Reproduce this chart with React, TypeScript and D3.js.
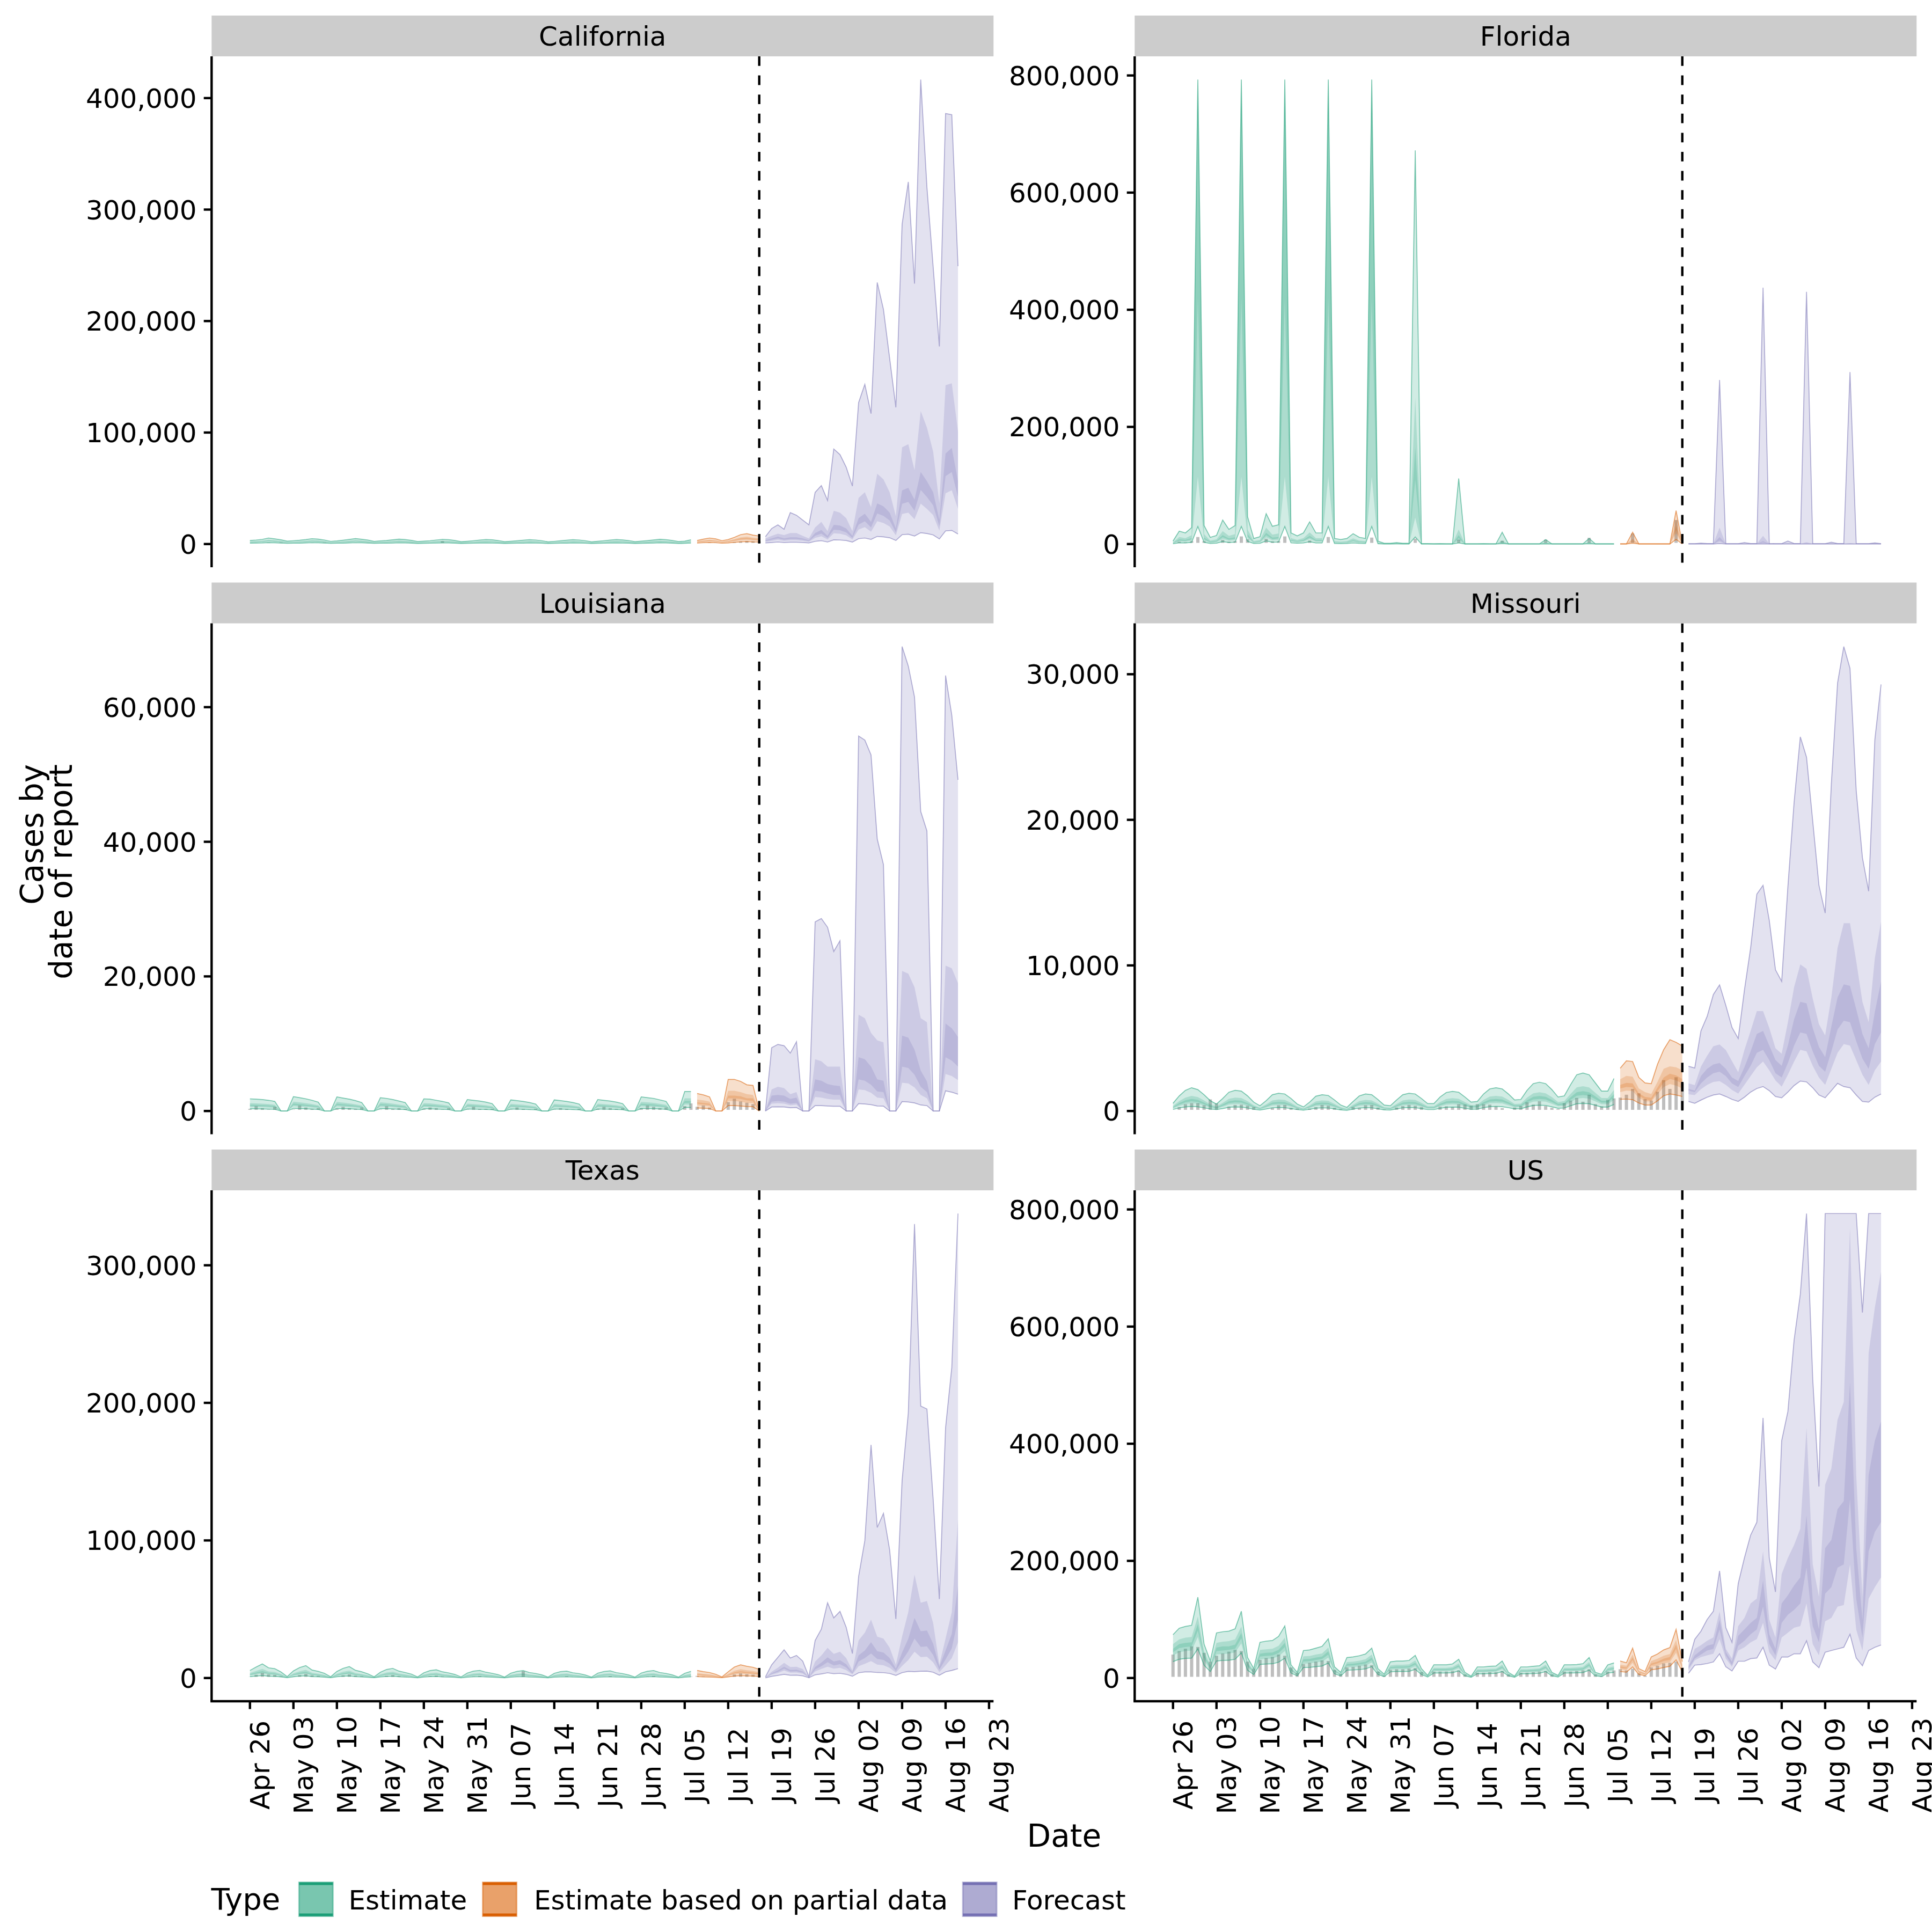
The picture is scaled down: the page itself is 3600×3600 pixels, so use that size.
import React from "react";
import * as d3 from "d3";

// ---------------------------------------------------------------------------
// Categories / structure
// ---------------------------------------------------------------------------
const START_DATE = new Date(2020, 3, 26); // Apr 26 2020 (Sunday)
const N_DAYS = 115; // Apr 26 .. Aug 18
const VLINE_INDEX = 82; // Jul 17, last date with data
const TYPE_SEGMENTS: [number, number][] = [
  [0, 71], // Estimate: Apr 26 - Jul 6
  [72, 82], // Estimate based on partial data: Jul 7 - Jul 17
  [83, 114], // Forecast: Jul 18 - Aug 18
];
const TYPES = ["Estimate", "Estimate based on partial data", "Forecast"];
const TYPE_COLORS = ["#1B9E77", "#D95F02", "#7570B3"];
const REGIONS = ["California", "Florida", "Louisiana", "Missouri", "Texas", "US"];
const X_TICK_START = new Date(2020, 3, 26);
const X_TICK_END = new Date(2020, 7, 23);

// y tick values (thousands) per region
const caTicks = [0, 100, 200, 300, 400];
const flTicks = [0, 200, 400, 600, 800];
const laTicks = [0, 20, 40, 60];
const moTicks = [0, 10, 20, 30];
const txTicks = [0, 100, 200, 300];
const usTicks = [0, 200, 400, 600, 800];

// ---------------------------------------------------------------------------
// Values, in thousands of cases. Rows are weeks Sun..Sat.
// Estimate (72) | partial (11) | forecast (32)
// ---------------------------------------------------------------------------

// ----- California -----
const caHi90 = [
  3.2, 3.6, 4.2, 5.4, 4.6, 3.8, 2.6,
  3.0, 3.4, 4.0, 4.8, 4.4, 3.6, 2.4,
  2.8, 3.4, 4.1, 4.9, 4.3, 3.5, 2.3,
  2.8, 3.2, 3.8, 4.4, 4.0, 3.3, 2.2,
  2.6, 3.0, 3.6, 4.2, 3.9, 3.2, 2.1,
  2.5, 3.0, 3.5, 4.0, 3.8, 3.1, 2.1,
  2.5, 2.9, 3.4, 3.9, 3.6, 3.0, 2.0,
  2.4, 2.9, 3.4, 3.9, 3.6, 3.0, 2.0,
  2.5, 3.0, 3.5, 4.0, 3.7, 3.1, 2.1,
  2.6, 3.1, 3.7, 4.3, 3.9, 3.2, 2.2,
  2.6, 3.8,
  3.2, 4.4, 5.4, 4.6, 3.0, 4.0, 6.0, 8.4, 9.3, 8.0, 7.2,
  6.6,
  13.9, 17.2, 13.3, 28.2, 25.8, 21.5, 17.2,
  46.4, 52.4, 39.1, 85.2, 80.2, 68.9, 52.0,
  126.9, 143.2, 117.0, 234.6, 210.4, 166.4, 122.6,
  286.7, 324.8, 233.6, 416.6, 319.8, 248.6, 177.3,
  386.1, 385.1, 249.2,
];
const caHi50 = [
  2.3, 2.6, 3.0, 3.9, 3.3, 2.7, 1.9,
  2.2, 2.4, 2.9, 3.5, 3.2, 2.6, 1.7,
  2.0, 2.4, 3.0, 3.5, 3.1, 2.5, 1.7,
  2.0, 2.3, 2.7, 3.2, 2.9, 2.4, 1.6,
  1.9, 2.2, 2.6, 3.0, 2.8, 2.3, 1.5,
  1.8, 2.2, 2.5, 2.9, 2.7, 2.2, 1.5,
  1.8, 2.1, 2.4, 2.8, 2.6, 2.2, 1.4,
  1.7, 2.1, 2.4, 2.8, 2.6, 2.2, 1.4,
  1.8, 2.2, 2.5, 2.9, 2.7, 2.2, 1.5,
  1.9, 2.2, 2.7, 3.1, 2.8, 2.3, 1.6,
  1.9, 2.7,
  2.4, 3.2, 3.9, 3.3, 2.2, 3.0, 4.4, 6.0, 6.6, 5.8, 5.2,
  5.0,
  7.3, 9.3, 8.0, 9.9, 9.9, 7.3, 5.0,
  14.9, 19.9, 11.6, 29.8, 28.2, 23.2, 11.6,
  41.4, 46.4, 33.1, 63.0, 58.0, 46.4, 24.9,
  86.8, 89.5, 66.3, 119.3, 104.4, 82.9, 36.5,
  142.5, 144.2, 101.1,
];
const caHi20 = [
  1.9, 2.2, 2.5, 3.2, 2.8, 2.3, 1.6,
  1.8, 2.0, 2.4, 2.9, 2.6, 2.2, 1.4,
  1.7, 2.0, 2.5, 2.9, 2.6, 2.1, 1.4,
  1.7, 1.9, 2.3, 2.6, 2.4, 2.0, 1.3,
  1.6, 1.8, 2.2, 2.5, 2.3, 1.9, 1.3,
  1.5, 1.8, 2.1, 2.4, 2.3, 1.9, 1.3,
  1.5, 1.7, 2.0, 2.3, 2.2, 1.8, 1.2,
  1.4, 1.7, 2.0, 2.3, 2.2, 1.8, 1.2,
  1.5, 1.8, 2.1, 2.4, 2.2, 1.9, 1.3,
  1.6, 1.9, 2.2, 2.6, 2.3, 1.9, 1.3,
  1.6, 2.3,
  2.0, 2.7, 3.3, 2.8, 1.8, 2.5, 3.7, 5.0, 5.5, 4.8, 4.4,
  3.3,
  5.0, 6.6, 5.0, 6.0, 6.0, 5.0, 3.3,
  9.9, 12.6, 7.3, 17.2, 16.6, 13.9, 7.3,
  23.2, 27.2, 19.9, 36.5, 33.8, 28.2, 13.9,
  48.1, 50.4, 39.8, 64.6, 56.3, 46.4, 21.5,
  81.2, 86.2, 56.3,
];
const caLo20 = [
  1.6, 1.8, 2.1, 2.7, 2.3, 1.9, 1.3,
  1.5, 1.7, 2.0, 2.4, 2.2, 1.8, 1.2,
  1.4, 1.7, 2.0, 2.4, 2.1, 1.7, 1.1,
  1.4, 1.6, 1.9, 2.2, 2.0, 1.6, 1.1,
  1.3, 1.5, 1.8, 2.1, 1.9, 1.6, 1.0,
  1.2, 1.5, 1.7, 2.0, 1.9, 1.5, 1.0,
  1.2, 1.4, 1.7, 1.9, 1.8, 1.5, 1.0,
  1.2, 1.4, 1.7, 1.9, 1.8, 1.5, 1.0,
  1.2, 1.5, 1.7, 2.0, 1.8, 1.5, 1.0,
  1.3, 1.5, 1.8, 2.1, 1.9, 1.6, 1.1,
  1.3, 1.9,
  1.7, 2.3, 2.8, 2.4, 1.6, 2.1, 3.1, 4.2, 4.6, 4.0, 3.7,
  2.6,
  3.8, 5.0, 3.8, 4.5, 4.5, 3.8, 2.6,
  7.4, 9.4, 5.5, 12.9, 12.4, 10.4, 5.5,
  17.4, 20.4, 14.9, 27.4, 25.3, 21.2, 10.4,
  36.1, 37.8, 29.9, 48.5, 42.2, 34.8, 16.1,
  60.9, 64.6, 42.2,
];
const caLo50 = [
  1.3, 1.4, 1.7, 2.2, 1.8, 1.5, 1.0,
  1.2, 1.4, 1.6, 1.9, 1.8, 1.4, 1.0,
  1.1, 1.4, 1.6, 2.0, 1.7, 1.4, 0.9,
  1.1, 1.3, 1.5, 1.8, 1.6, 1.3, 0.9,
  1.0, 1.2, 1.4, 1.7, 1.6, 1.3, 0.8,
  1.0, 1.2, 1.4, 1.6, 1.5, 1.2, 0.8,
  1.0, 1.2, 1.4, 1.6, 1.4, 1.2, 0.8,
  1.0, 1.2, 1.4, 1.6, 1.4, 1.2, 0.8,
  1.0, 1.2, 1.4, 1.6, 1.5, 1.2, 0.8,
  1.0, 1.2, 1.5, 1.7, 1.6, 1.3, 0.9,
  1.0, 1.5,
  1.4, 1.9, 2.3, 2.0, 1.3, 1.7, 2.5, 3.4, 3.7, 3.2, 3.0,
  2.0,
  2.9, 3.8, 2.9, 3.4, 3.4, 2.9, 2.0,
  5.5, 7.0, 4.1, 9.6, 9.3, 7.8, 4.1,
  13.0, 15.2, 11.1, 20.4, 18.9, 15.8, 7.8,
  26.9, 28.2, 22.3, 36.2, 31.5, 26.0, 12.0,
  45.5, 48.3, 31.5,
];
const caLo90 = [
  0.8, 0.9, 1.0, 1.3, 1.1, 0.9, 0.6,
  0.7, 0.8, 1.0, 1.2, 1.1, 0.9, 0.6,
  0.7, 0.8, 1.0, 1.2, 1.1, 0.9, 0.6,
  0.7, 0.8, 0.9, 1.1, 1.0, 0.8, 0.5,
  0.6, 0.7, 0.9, 1.0, 1.0, 0.8, 0.5,
  0.6, 0.7, 0.9, 1.0, 0.9, 0.8, 0.5,
  0.6, 0.7, 0.8, 1.0, 0.9, 0.7, 0.5,
  0.6, 0.7, 0.8, 1.0, 0.9, 0.7, 0.5,
  0.6, 0.7, 0.9, 1.0, 0.9, 0.8, 0.5,
  0.6, 0.8, 0.9, 1.1, 1.0, 0.8, 0.5,
  0.6, 0.9,
  0.9, 1.2, 1.4, 1.2, 0.8, 1.0, 1.5, 2.0, 2.2, 1.9, 1.8,
  1.0,
  1.4, 1.8, 1.4, 1.6, 1.6, 1.4, 1.0,
  2.4, 3.0, 1.8, 3.8, 3.6, 3.2, 1.8,
  4.8, 5.4, 4.2, 6.8, 6.4, 5.6, 3.2,
  8.4, 8.8, 7.2, 10.2, 9.4, 8.2, 4.6,
  11.8, 12.2, 9.0,
];
const caReported = [
  1.5, 2.2, 1.8, 2.4, 2.0, 2.6, 1.7,
  1.4, 1.9, 1.6, 2.3, 2.1, 2.5, 1.8,
  1.3, 1.8, 1.7, 2.2, 2.0, 2.3, 1.6,
  1.2, 1.6, 1.9, 2.1, 1.9, 2.2, 1.5,
  1.3, 1.5, 1.7, 3.6, 2.0, 2.1, 1.5,
  1.1, 1.5, 1.8, 1.9, 1.9, 2.0, 1.4,
  1.2, 1.4, 1.7, 2.0, 1.8, 1.9, 1.3,
  1.2, 1.5, 1.6, 1.9, 1.8, 2.0, 1.4,
  1.3, 1.6, 1.8, 2.0, 1.9, 2.1, 1.4,
  1.4, 1.7, 1.9, 2.2, 2.0, 2.2, 1.5,
  1.5, 1.8,
  2.0, 2.3, 2.5, 2.4, 1.6, 2.2, 2.8, 3.4, 3.8, 3.5, 3.2,
];

// ----- Florida -----
const flHi90 = [
  5, 22, 19, 28, 793, 31.6, 11.4,
  14.5, 41, 25, 31.6, 793, 47, 9.5,
  12.6, 51.8, 30.3, 32.8, 793, 19, 13.9,
  19, 37.9, 19, 19, 793, 9.5, 7.6,
  9.5, 17.7, 11.4, 9.5, 793, 5, 1.3,
  1.3, 2.5, 1.3, 1.3, 672, 0.6, 0.6,
  0.4, 0.6, 0.4, 0.4, 112, 0.4, 0.3,
  0.3, 0.5, 0.3, 0.3, 20, 0.3, 0.3,
  0.3, 0.4, 0.3, 0.3, 7.6, 0.3, 0.3,
  0.3, 0.4, 0.3, 0.3, 9.5, 0.3, 0.3,
  0.3, 0.4,
  0.3, 0.3, 20, 0.3, 0.3, 0.3, 0.4, 0.3, 0.3, 57, 0.5,
  0.6,
  0.6, 1.5, 0.8, 0.8, 280, 0.8, 0.6,
  0.6, 2.5, 0.8, 0.8, 437.6, 0.8, 0.6,
  0.6, 5, 0.8, 0.8, 430.6, 0.8, 0.6,
  0.6, 3, 0.8, 0.8, 293.6, 0.8, 0.6,
  0.6, 2, 0.5,
];
const flHi50 = [
  3, 12, 10, 15, 793, 17, 6,
  8, 22, 14, 17, 793, 25, 5,
  7, 28, 16, 18, 793, 10, 7,
  10, 20, 10, 10, 793, 5, 4,
  5, 9.5, 6, 5, 793, 2.7, 0.7,
  0.7, 1.3, 0.7, 0.7, 250, 0.3, 0.3,
  0.2, 0.3, 0.2, 0.2, 25, 0.2, 0.2,
  0.2, 0.3, 0.2, 0.2, 6, 0.2, 0.2,
  0.2, 0.2, 0.2, 0.2, 3, 0.2, 0.2,
  0.2, 0.2, 0.2, 0.2, 3.5, 0.2, 0.2,
  0.2, 0.2,
  0.2, 0.2, 9, 0.2, 0.2, 0.2, 0.2, 0.2, 0.2, 43, 0.3,
  0.3,
  0.3, 0.8, 0.4, 0.4, 28, 0.4, 0.3,
  0.3, 1.2, 0.4, 0.4, 14, 0.4, 0.3,
  0.3, 2.2, 0.4, 0.4, 3.2, 0.4, 0.3,
  0.3, 1.4, 0.4, 0.4, 1.5, 0.4, 0.3,
  0.3, 1, 0.3,
];
const flHi20 = [
  2.2, 8, 7, 10, 793, 11, 4,
  5.5, 15, 9.5, 11.5, 793, 17, 3.5,
  4.8, 19, 11, 12, 793, 7, 5,
  7, 14, 7, 7, 793, 3.5, 2.8,
  3.5, 6.5, 4.2, 3.5, 793, 1.8, 0.5,
  0.5, 0.9, 0.5, 0.5, 165, 0.2, 0.2,
  0.15, 0.2, 0.15, 0.15, 15, 0.15, 0.1,
  0.1, 0.2, 0.1, 0.1, 4, 0.1, 0.1,
  0.1, 0.15, 0.1, 0.1, 2, 0.1, 0.1,
  0.1, 0.15, 0.1, 0.1, 2.5, 0.1, 0.1,
  0.1, 0.15,
  0.1, 0.1, 6, 0.1, 0.1, 0.1, 0.15, 0.1, 0.1, 31, 0.2,
  0.2,
  0.2, 0.5, 0.25, 0.25, 12, 0.25, 0.2,
  0.2, 0.7, 0.25, 0.25, 5, 0.25, 0.2,
  0.2, 1.2, 0.25, 0.25, 1.2, 0.25, 0.2,
  0.2, 0.8, 0.25, 0.25, 0.6, 0.25, 0.2,
  0.2, 0.6, 0.2,
];
const flLo20 = [
  1.7, 6, 5.5, 8, 420, 8.5, 3,
  4.3, 12, 7.5, 9, 420, 13, 2.8,
  3.8, 15, 8.5, 9.5, 420, 5.5, 4,
  5.5, 11, 5.5, 5.5, 420, 2.8, 2.2,
  2.8, 5, 3.3, 2.8, 420, 1.4, 0.4,
  0.4, 0.7, 0.4, 0.4, 110, 0.15, 0.15,
  0.1, 0.15, 0.1, 0.1, 10, 0.1, 0.1,
  0.1, 0.1, 0.1, 0.1, 2.8, 0.1, 0.1,
  0.1, 0.1, 0.1, 0.1, 1.4, 0.1, 0.1,
  0.1, 0.1, 0.1, 0.1, 1.8, 0.1, 0.1,
  0.1, 0.1,
  0.1, 0.1, 4.5, 0.1, 0.1, 0.1, 0.1, 0.1, 0.1, 24, 0.15,
  0.15,
  0.15, 0.35, 0.2, 0.2, 6, 0.2, 0.15,
  0.15, 0.5, 0.2, 0.2, 2.5, 0.2, 0.15,
  0.15, 0.8, 0.2, 0.2, 0.6, 0.2, 0.15,
  0.15, 0.5, 0.2, 0.2, 0.3, 0.2, 0.15,
  0.15, 0.4, 0.15,
];
const flLo50 = [
  1.3, 4.6, 4.2, 6, 115, 6.5, 2.3,
  3.3, 9, 5.7, 7, 115, 10, 2.1,
  2.9, 11.5, 6.5, 7.3, 115, 4.2, 3,
  4.2, 8.4, 4.2, 4.2, 115, 2.1, 1.7,
  2.1, 3.8, 2.5, 2.1, 115, 1.1, 0.3,
  0.3, 0.5, 0.3, 0.3, 45, 0.1, 0.1,
  0.08, 0.1, 0.08, 0.08, 6, 0.08, 0.05,
  0.05, 0.08, 0.05, 0.05, 1.8, 0.05, 0.05,
  0.05, 0.08, 0.05, 0.05, 0.9, 0.05, 0.05,
  0.05, 0.08, 0.05, 0.05, 1.2, 0.05, 0.05,
  0.05, 0.08,
  0.05, 0.05, 3.5, 0.05, 0.05, 0.05, 0.08, 0.05, 0.05, 18, 0.1,
  0.1,
  0.1, 0.25, 0.12, 0.12, 3, 0.12, 0.1,
  0.1, 0.3, 0.12, 0.12, 1.2, 0.12, 0.1,
  0.1, 0.5, 0.12, 0.12, 0.3, 0.12, 0.1,
  0.1, 0.3, 0.12, 0.12, 0.15, 0.12, 0.1,
  0.1, 0.25, 0.1,
];
const flLo90 = [
  0.6, 2.2, 2, 2.8, 30, 3, 1.1,
  1.5, 4.2, 2.6, 3.2, 30, 4.6, 1,
  1.3, 5.3, 3, 3.4, 30, 2, 1.4,
  2, 3.9, 2, 2, 30, 1, 0.8,
  1, 1.8, 1.2, 1, 30, 0.5, 0.15,
  0.15, 0.25, 0.15, 0.15, 12, 0.05, 0.05,
  0.03, 0.05, 0.03, 0.03, 2, 0.03, 0.02,
  0.02, 0.03, 0.02, 0.02, 0.7, 0.02, 0.02,
  0.02, 0.03, 0.02, 0.02, 0.4, 0.02, 0.02,
  0.02, 0.03, 0.02, 0.02, 0.5, 0.02, 0.02,
  0.02, 0.03,
  0.02, 0.02, 1.5, 0.02, 0.02, 0.02, 0.03, 0.02, 0.02, 8, 0.05,
  0.03,
  0.03, 0.1, 0.05, 0.05, 0.8, 0.05, 0.03,
  0.03, 0.1, 0.05, 0.05, 0.3, 0.05, 0.03,
  0.03, 0.15, 0.05, 0.05, 0.08, 0.05, 0.03,
  0.03, 0.1, 0.05, 0.05, 0.04, 0.05, 0.03,
  0.03, 0.08, 0.03,
];
const flReported = [
  1.5, 6, 5, 7, 14, 7, 2.5,
  3.5, 9, 6, 7, 15, 10, 2,
  3, 11, 6.5, 7, 15, 4, 3,
  4, 8, 4, 4, 14, 2, 1.5,
  2, 4, 2.5, 2, 13, 1, 0.3,
  0.3, 2.5, 0.3, 0.3, 11, 0, 0,
  0, 0, 0, 0, 9.5, 0, 0,
  0, 0, 0, 0, 7.6, 0, 0,
  0, 0, 0, 0, 9.5, 0, 0,
  0, 0, 0, 0, 12.6, 0, 0,
  0, 0,
  0, 0, 20, 0, 0, 0, 0, 0, 0, 43, 0,
];

// ----- Louisiana -----
const laHi90 = [
  1.81, 1.76, 1.70, 1.59, 1.43, 0, 0,
  2.14, 1.98, 1.81, 1.59, 1.32, 0, 0,
  2.09, 1.92, 1.76, 1.54, 1.26, 0, 0,
  1.98, 1.87, 1.70, 1.48, 1.26, 0, 0,
  1.81, 1.76, 1.59, 1.43, 1.21, 0, 0,
  1.70, 1.59, 1.48, 1.32, 1.10, 0, 0,
  1.65, 1.54, 1.43, 1.26, 1.04, 0, 0,
  1.65, 1.54, 1.43, 1.26, 1.04, 0, 0,
  1.70, 1.59, 1.48, 1.32, 1.10, 0, 0,
  2.09, 1.98, 1.87, 1.65, 1.43, 0, 0,
  2.9, 2.9,
  2.6, 2.4, 2.1, 0, 0, 4.7, 4.7, 4.4, 3.9, 3.8, 0,
  0,
  9.4, 9.9, 9.7, 8.6, 10.3, 0, 0,
  28.1, 28.6, 27.3, 23.7, 25.3, 0, 0,
  55.7, 55.1, 52.9, 40.4, 36.6, 0, 0,
  69.0, 66.1, 61.5, 44.5, 41.6, 0, 0,
  64.7, 58.8, 49.2,
];
const laHi50 = [
  1.18, 1.14, 1.10, 1.03, 0.93, 0, 0,
  1.39, 1.29, 1.18, 1.03, 0.86, 0, 0,
  1.36, 1.25, 1.14, 1.00, 0.82, 0, 0,
  1.29, 1.22, 1.10, 0.96, 0.82, 0, 0,
  1.18, 1.14, 1.03, 0.93, 0.79, 0, 0,
  1.10, 1.03, 0.96, 0.86, 0.72, 0, 0,
  1.07, 1.00, 0.93, 0.82, 0.68, 0, 0,
  1.07, 1.00, 0.93, 0.82, 0.68, 0, 0,
  1.10, 1.03, 0.96, 0.86, 0.72, 0, 0,
  1.36, 1.29, 1.22, 1.07, 0.93, 0, 0,
  1.9, 1.9,
  1.7, 1.6, 1.4, 0, 0, 3.0, 3.0, 2.8, 2.5, 2.4, 0,
  0,
  3.2, 3.6, 3.4, 2.5, 2.8, 0, 0,
  7.7, 7.4, 6.6, 6.6, 6.6, 0, 0,
  14.3, 13.8, 11.6, 10.5, 10.2, 0, 0,
  20.8, 20.4, 18.4, 13.8, 13.2, 0, 0,
  21.6, 21.2, 19.0,
];
const laHi20 = [
  0.94, 0.92, 0.88, 0.83, 0.74, 0, 0,
  1.11, 1.03, 0.94, 0.83, 0.69, 0, 0,
  1.09, 1.00, 0.92, 0.80, 0.66, 0, 0,
  1.03, 0.97, 0.88, 0.77, 0.66, 0, 0,
  0.94, 0.92, 0.83, 0.74, 0.63, 0, 0,
  0.88, 0.83, 0.77, 0.69, 0.57, 0, 0,
  0.86, 0.80, 0.74, 0.66, 0.54, 0, 0,
  0.86, 0.80, 0.74, 0.66, 0.54, 0, 0,
  0.88, 0.83, 0.77, 0.69, 0.57, 0, 0,
  1.09, 1.03, 0.97, 0.86, 0.74, 0, 0,
  1.5, 1.5,
  1.3, 1.2, 1.1, 0, 0, 2.3, 2.3, 2.2, 1.9, 1.9, 0,
  0,
  2.3, 2.4, 2.3, 1.8, 2.0, 0, 0,
  4.7, 4.5, 4.0, 3.8, 3.7, 0, 0,
  8.0, 7.7, 6.6, 4.7, 4.5, 0, 0,
  11.2, 10.9, 9.1, 6.0, 4.4, 0, 0,
  13.0, 12.3, 11.0,
];
const laLo20 = [
  0.76, 0.74, 0.71, 0.67, 0.60, 0, 0,
  0.90, 0.83, 0.76, 0.67, 0.55, 0, 0,
  0.88, 0.81, 0.74, 0.65, 0.53, 0, 0,
  0.83, 0.79, 0.71, 0.62, 0.53, 0, 0,
  0.76, 0.74, 0.67, 0.60, 0.51, 0, 0,
  0.71, 0.67, 0.62, 0.55, 0.46, 0, 0,
  0.69, 0.65, 0.60, 0.53, 0.44, 0, 0,
  0.69, 0.65, 0.60, 0.53, 0.44, 0, 0,
  0.71, 0.67, 0.62, 0.55, 0.46, 0, 0,
  0.88, 0.83, 0.79, 0.69, 0.60, 0, 0,
  1.2, 1.2,
  1.1, 1.0, 0.9, 0, 0, 1.9, 1.9, 1.8, 1.6, 1.5, 0,
  0,
  1.4, 1.5, 1.4, 1.1, 1.2, 0, 0,
  3.0, 2.9, 2.6, 2.4, 2.4, 0, 0,
  4.7, 4.5, 3.9, 2.9, 2.8, 0, 0,
  6.6, 6.4, 5.4, 3.6, 2.8, 0, 0,
  8.0, 7.5, 6.6,
];
const laLo50 = [
  0.60, 0.58, 0.56, 0.52, 0.47, 0, 0,
  0.71, 0.65, 0.60, 0.52, 0.44, 0, 0,
  0.69, 0.63, 0.58, 0.51, 0.42, 0, 0,
  0.65, 0.62, 0.56, 0.49, 0.42, 0, 0,
  0.60, 0.58, 0.52, 0.47, 0.40, 0, 0,
  0.56, 0.52, 0.49, 0.44, 0.36, 0, 0,
  0.54, 0.51, 0.47, 0.42, 0.34, 0, 0,
  0.54, 0.51, 0.47, 0.42, 0.34, 0, 0,
  0.56, 0.52, 0.49, 0.44, 0.36, 0, 0,
  0.69, 0.65, 0.62, 0.54, 0.47, 0, 0,
  0.95, 0.95,
  0.85, 0.8, 0.7, 0, 0, 1.5, 1.5, 1.4, 1.2, 1.2, 0,
  0,
  1.1, 1.15, 1.1, 0.85, 0.95, 0, 0,
  2.1, 2.0, 1.8, 1.7, 1.7, 0, 0,
  3.2, 3.1, 2.7, 2.0, 1.9, 0, 0,
  4.2, 4.1, 3.5, 2.4, 1.9, 0, 0,
  5.5, 5.2, 4.6,
];
const laLo90 = [
  0.33, 0.32, 0.31, 0.29, 0.26, 0, 0,
  0.39, 0.36, 0.33, 0.29, 0.24, 0, 0,
  0.38, 0.35, 0.32, 0.28, 0.23, 0, 0,
  0.36, 0.34, 0.31, 0.27, 0.23, 0, 0,
  0.33, 0.32, 0.29, 0.26, 0.22, 0, 0,
  0.31, 0.29, 0.27, 0.24, 0.20, 0, 0,
  0.30, 0.28, 0.26, 0.23, 0.19, 0, 0,
  0.30, 0.28, 0.26, 0.23, 0.19, 0, 0,
  0.31, 0.29, 0.27, 0.24, 0.20, 0, 0,
  0.38, 0.36, 0.34, 0.30, 0.26, 0, 0,
  0.52, 0.52,
  0.45, 0.42, 0.37, 0, 0, 0.8, 0.8, 0.75, 0.66, 0.64, 0,
  0,
  0.6, 0.62, 0.6, 0.48, 0.52, 0, 0,
  0.8, 0.8, 0.75, 0.7, 0.7, 0, 0,
  1.1, 1.05, 0.95, 0.75, 0.72, 0, 0,
  1.4, 1.35, 1.2, 0.9, 0.8, 0, 0,
  3.0, 2.8, 2.5,
];
const laReported = [
  0.5, 0.9, 0.6, 0.4, 0.8, 0, 0,
  0.4, 1.0, 0.7, 0.5, 0.6, 0, 0,
  0.5, 0.8, 0.6, 0.5, 0.7, 0, 0,
  0.4, 0.9, 0.5, 0.6, 0.5, 0, 0,
  0.5, 0.7, 0.6, 0.4, 0.6, 0, 0,
  0.4, 0.8, 0.5, 0.5, 0.5, 0, 0,
  0.4, 0.7, 0.5, 0.4, 0.5, 0, 0,
  0.4, 0.6, 0.5, 0.4, 0.5, 0, 0,
  0.5, 0.8, 0.6, 0.5, 0.6, 0, 0,
  0.6, 1.0, 0.8, 0.6, 0.7, 0, 0,
  0.9, 1.3,
  0.8, 1.0, 0.7, 0, 0, 1.5, 2.0, 1.6, 1.4, 1.2, 0,
];

// ----- Missouri -----
const moHi90 = [
  0.53, 1.04, 1.42, 1.60, 1.47, 1.12, 0.71,
  0.48, 0.86, 1.29, 1.42, 1.37, 1.04, 0.61,
  0.36, 0.71, 1.12, 1.22, 1.17, 0.86, 0.48,
  0.28, 0.61, 1.02, 1.12, 1.07, 0.76, 0.41,
  0.25, 0.66, 1.04, 1.17, 1.12, 0.79, 0.41,
  0.36, 0.76, 1.12, 1.22, 1.17, 0.86, 0.51,
  0.51, 0.96, 1.27, 1.35, 1.29, 0.96, 0.61,
  0.66, 1.17, 1.52, 1.60, 1.52, 1.17, 0.76,
  0.79, 1.42, 1.88, 1.98, 1.88, 1.47, 0.96,
  1.04, 1.80, 2.49, 2.61, 2.49, 1.93, 1.37,
  1.37, 2.23,
  2.94, 3.45, 3.40, 2.31, 1.93, 1.88, 3.20, 4.21, 4.90, 4.72, 4.47,
  3.07,
  2.95, 5.5, 6.5, 8.0, 8.66, 7.26, 5.74,
  4.98, 8.3, 11.2, 14.9, 15.5, 13.1, 9.7,
  8.9, 15.4, 21.2, 25.7, 24.3, 19.9, 15.5,
  13.6, 22.5, 29.4, 31.9, 30.4, 22.0, 17.4,
  15.1, 25.5, 29.3,
];
const moHi50 = [
  0.35, 0.68, 0.92, 1.04, 0.96, 0.73, 0.46,
  0.31, 0.56, 0.84, 0.92, 0.89, 0.68, 0.40,
  0.23, 0.46, 0.73, 0.79, 0.76, 0.56, 0.31,
  0.18, 0.40, 0.66, 0.73, 0.70, 0.49, 0.27,
  0.16, 0.43, 0.68, 0.76, 0.73, 0.51, 0.27,
  0.23, 0.49, 0.73, 0.79, 0.76, 0.56, 0.33,
  0.33, 0.62, 0.83, 0.88, 0.84, 0.62, 0.40,
  0.43, 0.76, 0.99, 1.04, 0.99, 0.76, 0.49,
  0.51, 0.92, 1.22, 1.29, 1.22, 0.96, 0.62,
  0.68, 1.17, 1.62, 1.70, 1.62, 1.25, 0.89,
  0.89, 1.45,
  2.18, 2.41, 2.36, 1.55, 1.30, 1.17, 2.0, 2.9, 3.07, 3.0, 2.8,
  1.9,
  1.78, 3.05, 3.8, 4.45, 4.57, 4.19, 3.43,
  2.66, 4.19, 5.5, 6.86, 6.86, 5.71, 4.31,
  3.93, 6.09, 8.5, 10.07, 9.77, 7.72, 5.96,
  5.2, 7.8, 11.2, 12.9, 12.9, 10.3, 7.5,
  6.1, 10.5, 13.0,
];
const moHi20 = [
  0.28, 0.54, 0.74, 0.83, 0.76, 0.58, 0.37,
  0.25, 0.45, 0.67, 0.74, 0.71, 0.54, 0.32,
  0.19, 0.37, 0.58, 0.63, 0.61, 0.45, 0.25,
  0.15, 0.32, 0.53, 0.58, 0.56, 0.40, 0.21,
  0.13, 0.34, 0.54, 0.61, 0.58, 0.41, 0.21,
  0.19, 0.40, 0.58, 0.63, 0.61, 0.45, 0.27,
  0.27, 0.50, 0.66, 0.70, 0.67, 0.50, 0.32,
  0.34, 0.61, 0.79, 0.83, 0.79, 0.61, 0.40,
  0.41, 0.74, 0.98, 1.03, 0.98, 0.76, 0.50,
  0.54, 0.94, 1.29, 1.36, 1.29, 1.00, 0.71,
  0.71, 1.16,
  1.80, 1.93, 1.90, 1.22, 0.97, 0.91, 1.6, 2.3, 2.56, 2.45, 2.2,
  1.52,
  1.4, 2.4, 2.9, 3.2, 3.3, 2.9, 2.3,
  2.06, 3.0, 4.1, 5.3, 5.5, 4.5, 3.5,
  3.1, 4.5, 6.3, 7.5, 7.4, 5.7, 4.4,
  3.7, 5.8, 7.8, 8.7, 8.6, 7.0, 5.3,
  4.3, 6.8, 8.9,
];
const moLo20 = [
  0.22, 0.44, 0.60, 0.67, 0.62, 0.47, 0.30,
  0.20, 0.36, 0.54, 0.60, 0.58, 0.44, 0.26,
  0.15, 0.30, 0.47, 0.51, 0.49, 0.36, 0.20,
  0.12, 0.26, 0.43, 0.47, 0.45, 0.32, 0.17,
  0.11, 0.28, 0.44, 0.49, 0.47, 0.33, 0.17,
  0.15, 0.32, 0.47, 0.51, 0.49, 0.36, 0.21,
  0.21, 0.40, 0.53, 0.57, 0.54, 0.40, 0.26,
  0.28, 0.49, 0.64, 0.67, 0.64, 0.49, 0.32,
  0.33, 0.60, 0.79, 0.83, 0.79, 0.62, 0.40,
  0.44, 0.76, 1.05, 1.10, 1.05, 0.81, 0.58,
  0.58, 0.94,
  1.55, 1.65, 1.62, 1.05, 0.80, 0.71, 1.35, 1.95, 2.2, 2.1, 1.9,
  1.4,
  1.3, 1.9, 2.3, 2.6, 2.7, 2.4, 1.9,
  1.65, 2.4, 3.1, 4.0, 4.2, 3.5, 2.6,
  2.3, 3.3, 4.5, 5.4, 5.3, 4.1, 3.1,
  2.7, 4.1, 5.6, 6.2, 6.1, 4.8, 3.6,
  2.9, 4.6, 5.4,
];
const moLo50 = [
  0.18, 0.35, 0.48, 0.54, 0.50, 0.38, 0.24,
  0.16, 0.29, 0.44, 0.48, 0.47, 0.35, 0.21,
  0.12, 0.24, 0.38, 0.41, 0.40, 0.29, 0.16,
  0.10, 0.21, 0.35, 0.38, 0.36, 0.26, 0.14,
  0.09, 0.22, 0.35, 0.40, 0.38, 0.27, 0.14,
  0.12, 0.26, 0.38, 0.41, 0.40, 0.29, 0.17,
  0.17, 0.33, 0.43, 0.46, 0.44, 0.33, 0.21,
  0.22, 0.40, 0.52, 0.54, 0.52, 0.40, 0.26,
  0.27, 0.48, 0.64, 0.67, 0.64, 0.50, 0.33,
  0.35, 0.61, 0.85, 0.89, 0.85, 0.66, 0.47,
  0.47, 0.76,
  1.30, 1.40, 1.37, 0.90, 0.66, 0.66, 1.15, 1.65, 1.85, 1.75, 1.55,
  1.15,
  1.1, 1.5, 1.8, 2.0, 2.05, 1.8, 1.45,
  1.2, 1.8, 2.4, 3.0, 3.4, 2.8, 2.1,
  1.68, 2.5, 3.4, 4.2, 4.1, 3.1, 2.3,
  1.8, 2.9, 4.0, 4.6, 4.5, 3.5, 2.5,
  1.8, 2.8, 3.4,
];
const moLo90 = [
  0.11, 0.21, 0.28, 0.32, 0.29, 0.22, 0.14,
  0.10, 0.17, 0.26, 0.28, 0.27, 0.21, 0.12,
  0.07, 0.14, 0.22, 0.24, 0.23, 0.17, 0.10,
  0.06, 0.12, 0.20, 0.22, 0.21, 0.15, 0.08,
  0.05, 0.13, 0.21, 0.23, 0.22, 0.16, 0.08,
  0.07, 0.15, 0.22, 0.24, 0.23, 0.17, 0.10,
  0.10, 0.19, 0.25, 0.27, 0.26, 0.19, 0.12,
  0.13, 0.23, 0.30, 0.32, 0.30, 0.23, 0.15,
  0.16, 0.28, 0.38, 0.40, 0.38, 0.29, 0.19,
  0.21, 0.36, 0.50, 0.52, 0.50, 0.39, 0.27,
  0.27, 0.45,
  0.80, 0.82, 0.78, 0.55, 0.41, 0.41, 0.7, 1.05, 1.17, 1.1, 1.0,
  0.66,
  0.53, 0.75, 0.95, 1.1, 1.17, 1.0, 0.8,
  0.66, 0.95, 1.3, 1.55, 1.68, 1.4, 1.0,
  0.91, 1.3, 1.75, 2.06, 2.0, 1.6, 1.1,
  0.91, 1.4, 1.9, 1.68, 1.6, 1.1, 0.66,
  0.61, 0.95, 1.17,
];
const moReported = [
  0.15, 0.35, 0.55, 0.62, 0.62, 0.48, 0.88,
  0.6, 0.12, 0.38, 0.5, 0.52, 0.45, 0.35,
  0.15, 0.1, 0.3, 0.48, 0.5, 0.3, 0.25,
  0.08, 0.25, 0.35, 0.5, 0.45, 0.3, 0.22,
  0.05, 0.35, 0.3, 0.48, 0.5, 0.32, 0.2,
  0.1, 0.32, 0.42, 0.5, 0.44, 0.35, 0.15,
  0.08, 0.38, 0.4, 0.35, 0.55, 0.52, 0.45,
  0.55, 0.55, 0.52, 0.4, 0.28, 0.12, 0.32,
  0.42, 0.68, 0.52, 0.75, 0.42, 0.3, 0.22,
  0.62, 0.8, 0.98, 0.72, 1.2, 0.55, 0.4,
  0.85, 0.95,
  1.0, 1.2, 1.6, 1.3, 0.9, 0.8, 1.4, 2.2, 1.6, 2.4, 2.0,
];

// ----- Texas -----
const txHi90 = [
  5.5, 8.0, 10.2, 7.4, 6.8, 4.4, 1.0,
  5.2, 7.6, 9.0, 5.8, 4.8, 3.4, 0.9,
  4.8, 7.0, 8.3, 5.6, 4.5, 3.0, 0.9,
  4.2, 6.2, 7.0, 5.0, 4.0, 2.8, 0.8,
  3.8, 5.4, 6.0, 4.5, 3.7, 2.6, 0.8,
  3.6, 5.0, 5.5, 4.2, 3.4, 2.4, 0.7,
  3.5, 4.8, 5.4, 4.0, 3.3, 2.3, 0.7,
  3.4, 4.6, 5.0, 3.8, 3.2, 2.2, 0.7,
  3.5, 4.7, 5.2, 3.9, 3.2, 2.2, 0.7,
  3.6, 4.9, 5.4, 4.0, 3.3, 2.3, 0.7,
  3.4, 4.8,
  5.5, 4.6, 4.0, 2.7, 0.8, 4.5, 8.0, 9.6, 8.5, 7.8, 6.3,
  0.8,
  9.6, 15.0, 20.5, 14.5, 16.4, 12.3, 0.8,
  27.3, 35.5, 54.7, 43.7, 48.4, 36.9, 17.8,
  73.8, 99.8, 169.5, 109.4, 119.7, 93.0, 42.9,
  143.5, 192.7, 330.0, 197.7, 195.5, 130.0, 57.4,
  181.8, 225.6, 337.6,
];
const txHi50 = [
  3.6, 5.2, 6.6, 4.8, 4.4, 2.9, 0.7,
  3.4, 4.9, 5.9, 3.8, 3.1, 2.2, 0.6,
  3.1, 4.6, 5.4, 3.6, 2.9, 2.0, 0.6,
  2.7, 4.0, 4.6, 3.3, 2.6, 1.8, 0.5,
  2.5, 3.5, 3.9, 2.9, 2.4, 1.7, 0.5,
  2.3, 3.3, 3.6, 2.7, 2.2, 1.6, 0.5,
  2.3, 3.1, 3.5, 2.6, 2.1, 1.5, 0.5,
  2.2, 3.0, 3.3, 2.5, 2.1, 1.4, 0.5,
  2.3, 3.1, 3.4, 2.5, 2.1, 1.4, 0.5,
  2.3, 3.2, 3.5, 2.6, 2.1, 1.5, 0.5,
  2.2, 3.1,
  3.6, 3.0, 2.6, 1.8, 0.6, 3.0, 5.3, 6.4, 5.6, 5.2, 4.2,
  0.5,
  4.6, 7.5, 11.0, 8.0, 8.2, 6.5, 0.6,
  12.0, 16.4, 21.9, 17.5, 19.1, 14.5, 5.5,
  27.3, 33.0, 42.4, 30.0, 28.7, 22.0, 9.6,
  30.1, 48.0, 75.2, 54.7, 56.0, 40.0, 9.6,
  28.7, 47.8, 115.6,
];
const txHi20 = [
  2.8, 4.0, 5.1, 3.7, 3.4, 2.2, 0.5,
  2.6, 3.8, 4.5, 2.9, 2.4, 1.7, 0.5,
  2.4, 3.5, 4.2, 2.8, 2.3, 1.5, 0.5,
  2.1, 3.1, 3.5, 2.5, 2.0, 1.4, 0.4,
  1.9, 2.7, 3.0, 2.3, 1.9, 1.3, 0.4,
  1.8, 2.5, 2.8, 2.1, 1.7, 1.2, 0.4,
  1.8, 2.4, 2.7, 2.0, 1.7, 1.2, 0.4,
  1.7, 2.3, 2.5, 1.9, 1.6, 1.1, 0.4,
  1.8, 2.4, 2.6, 2.0, 1.6, 1.1, 0.4,
  1.8, 2.5, 2.7, 2.0, 1.7, 1.2, 0.4,
  1.7, 2.4,
  2.8, 2.4, 2.1, 1.4, 0.5, 2.3, 4.1, 5.0, 4.4, 4.0, 3.3,
  0.4,
  3.5, 5.5, 8.2, 5.8, 6.0, 4.8, 0.5,
  8.0, 11.2, 15.0, 12.0, 13.0, 10.0, 4.1,
  16.5, 20.0, 26.0, 19.5, 18.5, 14.5, 6.8,
  18.5, 28.5, 43.7, 34.0, 34.5, 25.0, 8.2,
  20.0, 32.0, 67.0,
];
const txLo20 = [
  2.2, 3.2, 4.1, 3.0, 2.7, 1.8, 0.4,
  2.1, 3.0, 3.6, 2.3, 1.9, 1.4, 0.4,
  1.9, 2.8, 3.3, 2.2, 1.8, 1.2, 0.4,
  1.7, 2.5, 2.8, 2.0, 1.6, 1.1, 0.3,
  1.5, 2.2, 2.4, 1.8, 1.5, 1.0, 0.3,
  1.4, 2.0, 2.2, 1.7, 1.4, 1.0, 0.3,
  1.4, 1.9, 2.2, 1.6, 1.3, 0.9, 0.3,
  1.4, 1.8, 2.0, 1.5, 1.3, 0.9, 0.3,
  1.4, 1.9, 2.1, 1.6, 1.3, 0.9, 0.3,
  1.4, 2.0, 2.2, 1.6, 1.3, 0.9, 0.3,
  1.4, 1.9,
  2.3, 1.9, 1.7, 1.1, 0.4, 1.9, 3.3, 4.0, 3.5, 3.2, 2.6,
  0.3,
  2.9, 4.5, 6.8, 4.8, 5.0, 3.9, 0.4,
  6.2, 8.6, 11.5, 9.2, 10.0, 7.7, 3.3,
  12.0, 14.5, 17.8, 13.8, 13.2, 10.4, 5.2,
  12.8, 19.4, 28.7, 22.6, 23.0, 16.8, 6.0,
  13.5, 21.5, 42.4,
];
const txLo50 = [
  1.8, 2.6, 3.3, 2.4, 2.2, 1.4, 0.3,
  1.7, 2.4, 2.9, 1.9, 1.5, 1.1, 0.3,
  1.5, 2.2, 2.7, 1.8, 1.4, 1.0, 0.3,
  1.3, 2.0, 2.2, 1.6, 1.3, 0.9, 0.3,
  1.2, 1.7, 1.9, 1.4, 1.2, 0.8, 0.3,
  1.2, 1.6, 1.8, 1.3, 1.1, 0.8, 0.2,
  1.1, 1.5, 1.7, 1.3, 1.1, 0.7, 0.2,
  1.1, 1.5, 1.6, 1.2, 1.0, 0.7, 0.2,
  1.1, 1.5, 1.7, 1.2, 1.0, 0.7, 0.2,
  1.2, 1.6, 1.7, 1.3, 1.1, 0.7, 0.2,
  1.1, 1.5,
  1.8, 1.5, 1.3, 0.9, 0.3, 1.5, 2.7, 3.2, 2.8, 2.6, 2.1,
  0.2,
  2.3, 3.6, 5.5, 3.9, 4.0, 3.1, 0.3,
  4.8, 6.6, 8.2, 6.8, 7.4, 5.7, 2.6,
  8.6, 10.3, 12.3, 9.7, 9.3, 7.4, 3.9,
  8.8, 13.1, 19.1, 15.2, 15.5, 11.4, 4.3,
  9.2, 14.4, 25.9,
];
const txLo90 = [
  1.0, 1.4, 1.8, 1.3, 1.2, 0.8, 0.2,
  0.9, 1.4, 1.6, 1.0, 0.9, 0.6, 0.2,
  0.9, 1.3, 1.5, 1.0, 0.8, 0.5, 0.2,
  0.8, 1.1, 1.3, 0.9, 0.7, 0.5, 0.1,
  0.7, 1.0, 1.1, 0.8, 0.7, 0.5, 0.1,
  0.6, 0.9, 1.0, 0.8, 0.6, 0.4, 0.1,
  0.6, 0.9, 1.0, 0.7, 0.6, 0.4, 0.1,
  0.6, 0.8, 0.9, 0.7, 0.6, 0.4, 0.1,
  0.6, 0.8, 0.9, 0.7, 0.6, 0.4, 0.1,
  0.6, 0.9, 1.0, 0.7, 0.6, 0.4, 0.1,
  0.6, 0.9,
  1.0, 0.8, 0.7, 0.5, 0.2, 0.8, 1.4, 1.7, 1.5, 1.4, 1.1,
  0.1,
  1.2, 1.9, 2.7, 2.0, 2.1, 1.6, 0.2,
  2.3, 3.0, 3.8, 3.2, 3.4, 2.7, 1.3,
  3.8, 4.4, 4.4, 4.0, 3.9, 3.3, 1.9,
  3.9, 4.8, 4.6, 4.9, 5.0, 4.2, 2.0,
  4.5, 5.5, 6.8,
];
const txReported = [
  1.8, 3.2, 4.6, 3.4, 3.1, 2.2, 0.6,
  1.9, 3.0, 3.8, 2.8, 2.4, 1.8, 0.5,
  1.7, 2.8, 3.5, 2.6, 2.2, 1.6, 0.5,
  1.6, 2.5, 3.0, 2.3, 1.9, 1.4, 0.4,
  1.4, 2.2, 2.6, 2.1, 1.8, 1.3, 0.4,
  1.3, 2.0, 2.4, 1.9, 1.6, 1.2, 0.4,
  1.3, 1.9, 5.8, 1.8, 1.6, 1.2, 0.4,
  1.3, 1.8, 2.2, 1.7, 1.5, 1.1, 0.4,
  1.3, 1.9, 2.3, 1.8, 1.5, 1.1, 0.4,
  1.4, 2.0, 2.4, 1.8, 1.6, 1.2, 0.4,
  1.4, 2.0,
  2.4, 2.0, 1.8, 1.2, 0.4, 1.9, 3.4, 4.2, 3.6, 3.3, 2.7,
];

// ----- US -----
const usHi90 = [
  74, 85, 88, 90, 138, 58, 29,
  77, 79, 80, 84, 114, 35, 16,
  61, 63, 64, 71, 89, 22.5, 9.6,
  47, 48, 51, 54, 67, 19, 9.6,
  35, 36, 38, 41, 51, 16, 6.4,
  27.6, 29, 29, 30, 38.6, 16, 4.5,
  22.5, 22.5, 22.5, 24, 32, 9.6, 3.2,
  19, 19, 20, 20.5, 29, 9.6, 3.2,
  19, 19, 20, 21, 29, 9.6, 4.5,
  22.5, 22.5, 23, 24.5, 35, 9.6, 6.4,
  22.5, 25.7,
  29, 26, 51, 16, 11, 36, 41, 48, 52, 83, 28,
  27.5,
  66, 80, 100, 114, 183, 86, 61,
  161, 205, 244, 266, 444, 205, 147,
  405, 455, 577, 655, 793, 510, 327,
  793, 793, 793, 793, 793, 793, 624,
  793, 793, 793,
];
const usHi50 = [
  58, 66, 69, 70, 105, 45, 22,
  60, 62, 63, 66, 88, 27, 12.5,
  48, 49, 50, 55, 69, 17.5, 7.5,
  37, 37.5, 40, 42, 52, 14.8, 7.5,
  27.3, 28, 29.6, 32, 40, 12.5, 5,
  21.5, 22.6, 22.6, 23.4, 30, 12.5, 3.5,
  17.5, 17.5, 17.5, 18.7, 25, 7.5, 2.5,
  14.8, 14.8, 15.6, 16, 22.6, 7.5, 2.5,
  14.8, 14.8, 15.6, 16.4, 22.6, 7.5, 3.5,
  17.5, 17.5, 18, 19, 27.3, 7.5, 5,
  17.5, 20,
  23, 21, 40, 12.5, 8.5, 29, 33, 38, 41, 65, 22,
  22,
  49.7, 56, 63.6, 69.1, 113.6, 49.7, 33.1,
  88.6, 102.5, 127.4, 135.7, 216.2, 99.6, 69.1,
  177.4, 205.1, 227.3, 255, 427.1, 194, 138.5,
  330, 357.7, 441, 471.5, 768.4, 346.6, 138.5,
  554.8, 632.4, 693.5,
];
const usHi20 = [
  50, 58, 60, 61, 92, 39, 19.7,
  52, 54, 54, 57, 77, 24, 10.9,
  41.5, 43, 43.5, 48, 60, 15.3, 6.5,
  32, 32.6, 34.7, 36.7, 45.5, 12.9, 6.5,
  23.8, 24.5, 25.8, 27.9, 34.7, 10.9, 4.4,
  18.8, 19.7, 19.7, 20.4, 26.2, 10.9, 3.1,
  15.3, 15.3, 15.3, 16.3, 21.8, 6.5, 2.2,
  12.9, 12.9, 13.6, 13.9, 19.7, 6.5, 2.2,
  12.9, 12.9, 13.6, 14.3, 19.7, 6.5, 3.1,
  15.3, 15.3, 15.6, 16.7, 23.8, 6.5, 4.4,
  15.3, 17.5,
  20, 18, 35, 11, 7.4, 25, 28, 33, 36, 57, 19,
  19.2,
  38.6, 46.9, 55.2, 58, 99.6, 44.1, 27.5,
  71.9, 83, 94.1, 102.5, 166.2, 74.7, 49.7,
  127.4, 141.3, 158, 171.8, 277.3, 133, 83,
  221.8, 235.6, 288.4, 302.2, 504.8, 221.8, 99.6,
  346.6, 405, 438.2,
];
const usLo20 = [
  44, 51, 53, 54, 81, 35, 17.4,
  46, 47, 48, 50, 68, 21, 9.6,
  36.6, 37.8, 38.4, 42.6, 53, 13.5, 5.8,
  28.2, 28.8, 30.6, 32.4, 40, 11.4, 5.8,
  21, 21.6, 22.8, 24.6, 30.6, 9.6, 3.8,
  16.6, 17.4, 17.4, 18, 23, 9.6, 2.7,
  13.5, 13.5, 13.5, 14.4, 19.2, 5.8, 1.9,
  11.4, 11.4, 12, 12.3, 17.4, 5.8, 1.9,
  11.4, 11.4, 12, 12.6, 17.4, 5.8, 2.7,
  13.5, 13.5, 13.8, 14.7, 21, 5.8, 3.8,
  13.5, 15.4,
  17.5, 16, 31, 9.6, 6.5, 22, 25, 29, 31, 50, 17,
  16.4,
  33.1, 40, 46.9, 49.7, 83, 38.6, 22,
  55.2, 63.6, 74.7, 83, 121.9, 58, 38.6,
  94.1, 108, 116.3, 127.4, 188.5, 88.6, 60.8,
  144, 155.1, 188.5, 194, 305, 135.7, 69.1,
  216.2, 249.5, 266.1,
];
const usLo50 = [
  38.5, 44, 46, 47, 70, 30, 15,
  40, 41, 41.6, 43.7, 59, 18.2, 8.3,
  31.7, 32.8, 33.3, 37, 46, 11.7, 5,
  24.4, 25, 26.5, 28, 34.8, 9.9, 5,
  18.2, 18.7, 19.8, 21.3, 26.5, 8.3, 3.3,
  14.4, 15, 15, 15.6, 20, 8.3, 2.3,
  11.7, 11.7, 11.7, 12.5, 16.6, 5, 1.7,
  9.9, 9.9, 10.4, 10.7, 15, 5, 1.7,
  9.9, 9.9, 10.4, 10.9, 15, 5, 2.3,
  11.7, 11.7, 12, 12.7, 18.2, 5, 3.3,
  11.7, 13.4,
  15, 13.5, 26, 8.3, 5.6, 19, 21, 25, 27, 43, 14.5,
  13.6,
  30.3, 35.8, 38.6, 41.4, 66.4, 33.1, 19.2,
  46.9, 52.5, 60.8, 66.4, 94.1, 44.1, 30.3,
  69.1, 77.5, 85.8, 88.6, 127.4, 58, 38.6,
  96.9, 102.5, 121.9, 124.6, 194, 83, 46.9,
  135.7, 155.1, 171.8,
];
const usLo90 = [
  28, 32, 33.5, 34, 50, 22, 11,
  29, 30, 30.4, 32, 43, 13.3, 6,
  23.2, 24, 24.3, 27, 33.8, 8.5, 3.6,
  17.9, 18.2, 19.4, 20.5, 25.5, 7.2, 3.6,
  13.3, 13.7, 14.4, 15.6, 19.4, 6, 2.4,
  10.5, 11, 11, 11.4, 14.7, 6, 1.7,
  8.5, 8.5, 8.5, 9.1, 12.2, 3.6, 1.2,
  7.2, 7.2, 7.6, 7.8, 11, 3.6, 1.2,
  7.2, 7.2, 7.6, 8, 11, 3.6, 1.7,
  8.5, 8.5, 8.8, 9.3, 13.3, 3.6, 2.4,
  8.5, 9.8,
  11, 10, 19, 6, 4, 14, 15.5, 18, 20, 31, 10.5,
  8.1,
  22, 23, 24.7, 27.5, 41.4, 19.2, 12,
  28.6, 28.6, 33.1, 34.2, 52.5, 22, 15.3,
  35.8, 35.8, 41.4, 41.4, 63.6, 27.5, 17.5,
  44.1, 46.9, 49.7, 52.5, 74.7, 34.2, 20.9,
  46.9, 52.5, 56.3,
];
const usReported = [
  42, 48, 52, 56, 55, 45, 30,
  40, 44, 47, 50, 48, 30, 18,
  33, 36, 38, 42, 40, 20, 11,
  26, 28, 30, 32, 31, 16, 9,
  20, 21, 23, 25, 24, 13, 6,
  16, 17, 17, 18, 19, 12, 4,
  13, 13, 13, 14, 15, 8, 3,
  11, 11, 12, 12, 14, 8, 3,
  11, 11, 12, 13, 14, 8, 4,
  13, 13, 14, 15, 17, 8, 5,
  13, 15,
  17, 15, 18, 10, 6, 20, 23, 27, 28, 30, 20,
];

// ---------------------------------------------------------------------------
// Assemble panel descriptions from the arrays above
// ---------------------------------------------------------------------------
type PanelData = {
  name: string;
  ticks: number[];
  lo90: number[]; lo50: number[]; lo20: number[];
  hi20: number[]; hi50: number[]; hi90: number[];
  reported: number[];
};
const PANELS: PanelData[] = [
  { name: REGIONS[0], ticks: caTicks, lo90: caLo90, lo50: caLo50, lo20: caLo20, hi20: caHi20, hi50: caHi50, hi90: caHi90, reported: caReported },
  { name: REGIONS[1], ticks: flTicks, lo90: flLo90, lo50: flLo50, lo20: flLo20, hi20: flHi20, hi50: flHi50, hi90: flHi90, reported: flReported },
  { name: REGIONS[2], ticks: laTicks, lo90: laLo90, lo50: laLo50, lo20: laLo20, hi20: laHi20, hi50: laHi50, hi90: laHi90, reported: laReported },
  { name: REGIONS[3], ticks: moTicks, lo90: moLo90, lo50: moLo50, lo20: moLo20, hi20: moHi20, hi50: moHi50, hi90: moHi90, reported: moReported },
  { name: REGIONS[4], ticks: txTicks, lo90: txLo90, lo50: txLo50, lo20: txLo20, hi20: txHi20, hi50: txHi50, hi90: txHi90, reported: txReported },
  { name: REGIONS[5], ticks: usTicks, lo90: usLo90, lo50: usLo50, lo20: usLo20, hi20: usHi20, hi50: usHi50, hi90: usHi90, reported: usReported },
];

// ---------------------------------------------------------------------------
// Layout
// ---------------------------------------------------------------------------
const W = 3600;
const H = 3600;
const FONT = "'DejaVu Sans', Verdana, sans-serif";
const SMALL = 50;
const TITLE = 58;
const COL_X = [394.3, 2114.3];
const PANEL_W = 1457;
const STRIP_TOP = [29, 1085.5, 2142];
const STRIP_H = 76;
const PANEL_H = 952;
const AXIS_LW = 4.4;
const TICK_LEN = 14.6;

const DAY = 24 * 3600 * 1000;
const dates = d3.timeDay.range(START_DATE, d3.timeDay.offset(START_DATE, N_DAYS));
const xMinData = new Date(+dates[0] - 0.45 * DAY);
const xMaxData = dates[dates.length - 1];
const xPad = 0.05 * (+xMaxData - +xMinData);
const X_DOMAIN: [Date, Date] = [new Date(+xMinData - xPad), new Date(+xMaxData + xPad)];
const xTicks = d3.timeWeek.range(X_TICK_START, d3.timeDay.offset(X_TICK_END, 1));
const fmtDate = d3.timeFormat("%b %d");
const fmtNum = d3.format(",");

function Panel({ p, idx }: { p: PanelData; idx: number }) {
  const col = idx % 2;
  const row = Math.floor(idx / 2);
  const x0 = COL_X[col];
  const x1 = x0 + PANEL_W;
  const sTop = STRIP_TOP[row];
  const top = sTop + STRIP_H;
  const bottom = top + PANEL_H;
  const x = d3.scaleTime().domain(X_DOMAIN).range([x0, x1]);
  const maxV = d3.max([...p.hi90, ...p.reported]) as number;
  const y = d3.scaleLinear().domain([-0.05 * maxV, 1.05 * maxV]).range([bottom, top]);
  const clipId = `clip-${idx}`;

  const bands: [number[], number[]][] = [
    [p.lo90, p.hi90],
    [p.lo50, p.hi50],
    [p.lo20, p.hi20],
  ];

  const ribbons: React.ReactNode[] = [];
  bands.forEach(([lo, hi], b) => {
    TYPE_SEGMENTS.forEach(([s, e], t) => {
      const area = d3
        .area<number>()
        .x((i) => x(dates[i]))
        .y0((i) => y(lo[i]))
        .y1((i) => y(hi[i]));
      ribbons.push(
        <path key={`r-${b}-${t}`} d={area(d3.range(s, e + 1)) || ""} fill={TYPE_COLORS[t]} fillOpacity={0.2} stroke="none" />
      );
    });
  });
  const outlines: React.ReactNode[] = [];
  TYPE_SEGMENTS.forEach(([s, e], t) => {
    [p.hi90, p.lo90].forEach((arr, k) => {
      const line = d3
        .line<number>()
        .x((i) => x(dates[i]))
        .y((i) => y(arr[i]));
      outlines.push(
        <path key={`o-${t}-${k}`} d={line(d3.range(s, e + 1)) || ""} fill="none" stroke={TYPE_COLORS[t]} strokeWidth={1.7} strokeOpacity={0.55} />
      );
    });
  });

  const bars = p.reported.map((v, i) => {
    const xa = x(new Date(+dates[i] - 0.45 * DAY));
    const xb = x(new Date(+dates[i] + 0.45 * DAY));
    return (
      <rect key={`b-${i}`} x={xa} y={y(v)} width={xb - xa} height={Math.max(0, y(0) - y(v))} fill="#BEBEBE" stroke="#FFFFFF" strokeWidth={4.4} />
    );
  });

  const vx = x(dates[VLINE_INDEX]);
  const isBottom = row === 2;

  return (
    <g>
      <defs>
        <clipPath id={clipId}>
          <rect x={x0} y={top} width={PANEL_W} height={PANEL_H} />
        </clipPath>
      </defs>
      {/* strip */}
      <rect x={x0} y={sTop} width={PANEL_W} height={STRIP_H} fill="#CCCCCC" />
      <text x={(x0 + x1) / 2} y={sTop + 56} fontSize={SMALL} fontFamily={FONT} textAnchor="middle" fill="#000">
        {p.name}
      </text>
      <g clipPath={`url(#${clipId})`}>
        {bars}
        {ribbons}
        {outlines}
        <line x1={vx} x2={vx} y1={top} y2={bottom} stroke="#000" strokeWidth={4.4} strokeDasharray="17.8 17.8" />
      </g>
      {/* y axis */}
      <line x1={x0} x2={x0} y1={top} y2={bottom} stroke="#000" strokeWidth={AXIS_LW} />
      {p.ticks.map((t) => (
        <g key={`yt-${t}`}>
          <line x1={x0 - TICK_LEN} x2={x0} y1={y(t)} y2={y(t)} stroke="#000" strokeWidth={AXIS_LW} />
          <text x={x0 - TICK_LEN - 13} y={y(t) + 18} fontSize={SMALL} fontFamily={FONT} textAnchor="end" fill="#000">
            {fmtNum(t * 1000)}
          </text>
        </g>
      ))}
      {isBottom && (
        <g>
          <line x1={x0 - AXIS_LW / 2} x2={x1} y1={bottom} y2={bottom} stroke="#000" strokeWidth={AXIS_LW} />
          {xTicks.map((d, k) => {
            const tx = x(d);
            return (
              <g key={`xt-${k}`}>
                <line x1={tx} x2={tx} y1={bottom} y2={bottom + TICK_LEN} stroke="#000" strokeWidth={AXIS_LW} />
                <text
                  transform={`translate(${tx},${bottom + 119}) rotate(-90)`}
                  x={0}
                  y={36.4}
                  fontSize={SMALL}
                  fontFamily={FONT}
                  textAnchor="middle"
                  fill="#000"
                >
                  {fmtDate(d)}
                </text>
              </g>
            );
          })}
        </g>
      )}
    </g>
  );
}

const LEGEND_KEY_X = [557.3, 899.6, 1794.1];
const LEGEND_TEXT_X = [649.4, 995, 1886];

export default function App() {
  return (
    <svg
      width={W}
      height={H}
      viewBox={`0 0 ${W} ${H}`}
      style={{ position: "absolute", left: 0, top: 0, background: "#FFFFFF" }}
      xmlns="http://www.w3.org/2000/svg"
    >
      <rect x={0} y={0} width={W} height={H} fill="#FFFFFF" />
      {PANELS.map((p, i) => (
        <Panel key={p.name} p={p} idx={i} />
      ))}
      {/* y axis title: two lines, right-justified (ends aligned at the top) */}
      <text transform="translate(80,1424) rotate(-90)" fontSize={TITLE} fontFamily={FONT} textAnchor="end" fill="#000">
        Cases by
      </text>
      <text transform="translate(134,1424) rotate(-90)" fontSize={TITLE} fontFamily={FONT} textAnchor="end" fill="#000">
        date of report
      </text>
      {/* x axis title */}
      <text x={(COL_X[0] + COL_X[1] + PANEL_W) / 2} y={3441} fontSize={TITLE} fontFamily={FONT} textAnchor="middle" fill="#000">
        Date
      </text>
      {/* legend */}
      <text x={393.5} y={3557.6} fontSize={56} fontFamily={FONT} fill="#000">
        Type
      </text>
      {TYPES.map((t, i) => (
        <g key={t}>
          <rect x={LEGEND_KEY_X[i]} y={3507.5} width={63} height={63} fill={TYPE_COLORS[i]} fillOpacity={0.59} stroke={TYPE_COLORS[i]} strokeOpacity={0.45} strokeWidth={3} />
          <line x1={LEGEND_KEY_X[i]} x2={LEGEND_KEY_X[i] + 63} y1={3510} y2={3510} stroke={TYPE_COLORS[i]} strokeWidth={5} />
          <line x1={LEGEND_KEY_X[i]} x2={LEGEND_KEY_X[i] + 63} y1={3568} y2={3568} stroke={TYPE_COLORS[i]} strokeWidth={5} />
          <text x={LEGEND_TEXT_X[i]} y={3557.6} fontSize={SMALL} fontFamily={FONT} fill="#000">
            {t}
          </text>
        </g>
      ))}
    </svg>
  );
}
